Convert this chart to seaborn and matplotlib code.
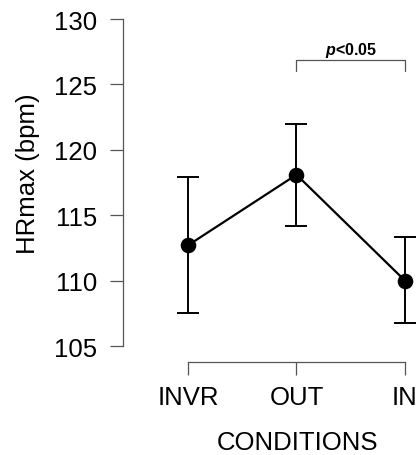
import matplotlib
matplotlib.use("Agg")
import matplotlib.pyplot as plt
import seaborn as sns
import pandas as pd

# values
conditions = ["INVR", "OUT", "IN"]
means = [112.7, 118.1, 110.0]
upper = [117.9, 122.0, 113.3]
lower = [107.5, 114.2, 106.8]
yticks = [105, 110, 115, 120, 125, 130]

sns.set_style("white")
plt.rcParams["font.family"] = ["Liberation Sans", "DejaVu Sans"]
plt.rcParams["mathtext.fontset"] = "custom"
plt.rcParams["mathtext.bfit"] = "Liberation Sans:italic:bold"
plt.rcParams["mathtext.it"] = "Liberation Sans:italic"
plt.rcParams["mathtext.bf"] = "Liberation Sans:bold"
plt.rcParams["mathtext.rm"] = "Liberation Sans"

df = pd.DataFrame({"cond": conditions, "hr": means})

fig = plt.figure(figsize=(4.18, 4.56), dpi=100)
# axes: left spine at px 123, x-axis line at px 363
ax = fig.add_axes([123 / 418, (456 - 363) / 456, (418 - 123) / 418, (363 - 10) / 456])

gray = "#555555"

# error bars
yerr = [[m - lo for m, lo in zip(means, lower)], [hi - m for m, hi in zip(means, upper)]]
ax.errorbar(range(len(conditions)), means, yerr=yerr, fmt="none", ecolor="black",
            elinewidth=1.4, capsize=8, capthick=1.4, zorder=2, clip_on=False)

sns.pointplot(data=df, x="cond", y="hr", color="black", markers="o",
              linewidth=1.6, markersize=10, errorbar=None, ax=ax)
for c in ax.collections + ax.lines:
    c.set_clip_on(False)

ax.set_xlim(-0.599, 2.12)
ax.set_ylim(103.78, 130.77)
ax.set_yticks(yticks)
ax.set_xticks(range(len(conditions)))
ax.set_xticklabels(conditions)

sns.despine(ax=ax)
ax.spines["left"].set_bounds(105, 130)
ax.spines["bottom"].set_bounds(0, 2)
for s in ["left", "bottom"]:
    ax.spines[s].set_color(gray)
    ax.spines[s].set_linewidth(0.9)

ax.tick_params(axis="both", direction="out", length=9.4, width=0.9, color=gray,
               labelsize=18.5, labelcolor="black")
ax.tick_params(axis="y", pad=9)
ax.tick_params(axis="x", pad=7)
ax.xaxis.set_tick_params(bottom=True)
ax.yaxis.set_tick_params(left=True)

ax.set_ylabel("HRmax (bpm)", fontsize=18.5, color="black", labelpad=8)
ax.set_xlabel("CONDITIONS", fontsize=18.5, color="black")
ax.yaxis.set_label_coords(-(123 - 28) / 295, 0.5 + (196 - 183) / 353)
ax.xaxis.set_label_coords(174 / 295, -(443 - 363) / 353)
ax.xaxis.label.set_va("center")
ax.yaxis.label.set_va("center")

# significance bracket between OUT and IN
bx = [1, 1, 2, 2]
by = [126.05, 126.86, 126.86, 126.05]
ax.plot(bx, by, color=gray, lw=0.9, clip_on=False)
ax.text(1.5, 127.7, r"$\mathbfit{p}$<0.05", ha="center", va="center",
        fontsize=11.5, fontweight="bold", color="black")

fig.savefig("out.png", dpi=100)
